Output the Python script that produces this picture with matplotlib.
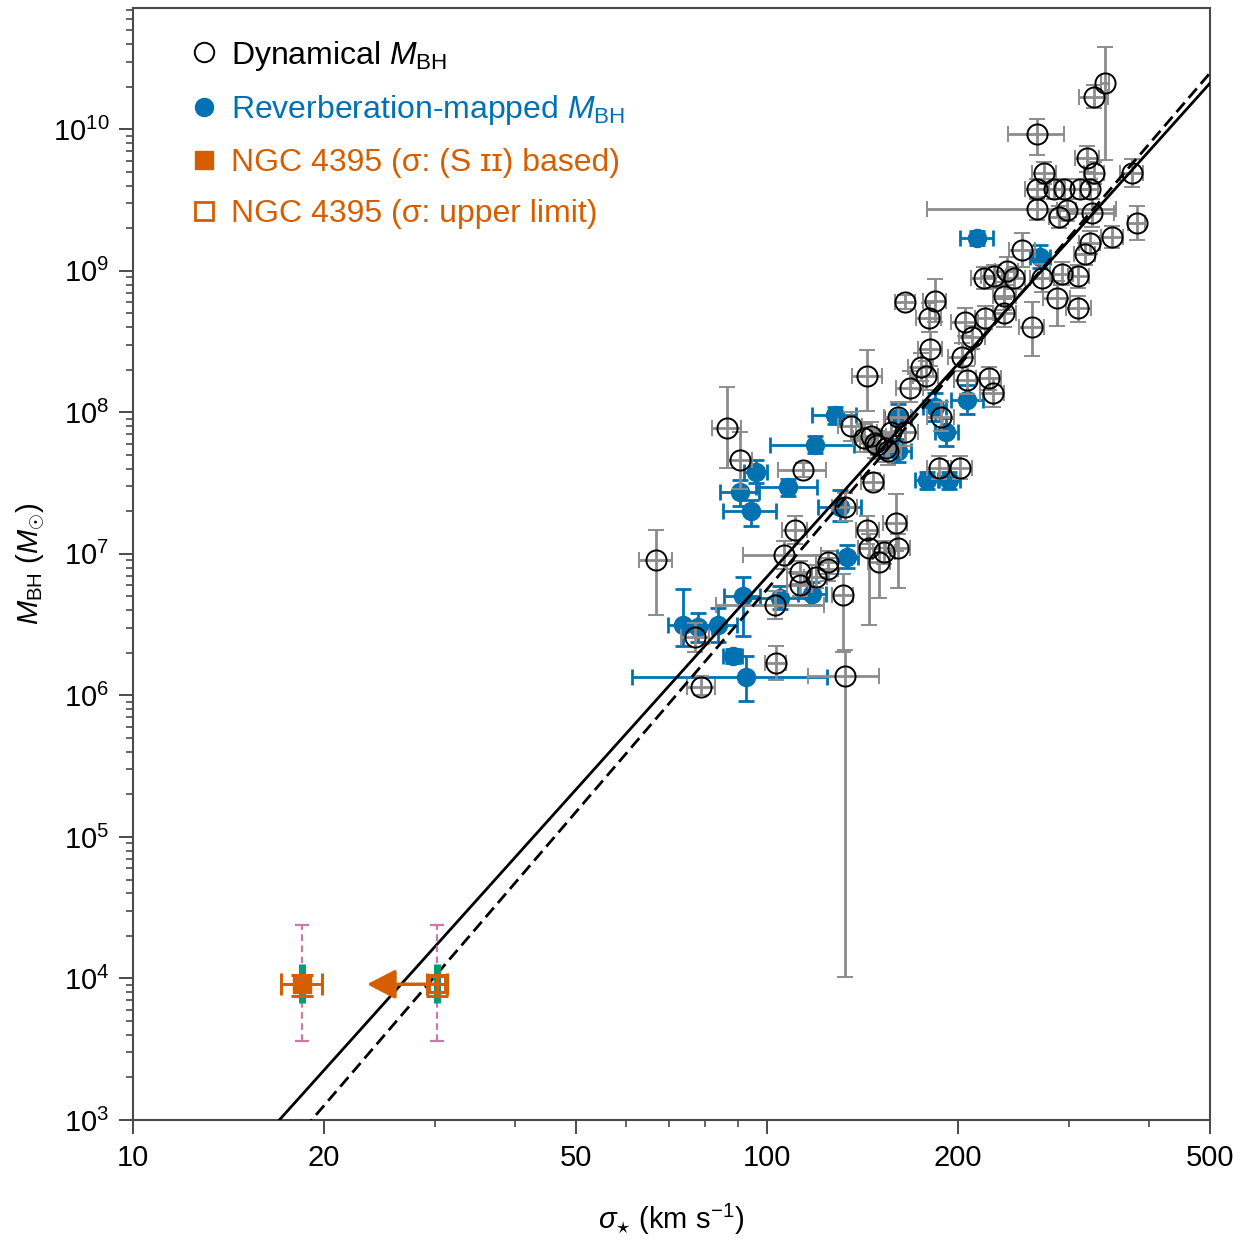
import numpy as np
import matplotlib
matplotlib.use("Agg")
import matplotlib.pyplot as plt
from matplotlib.lines import Line2D
from matplotlib.ticker import LogLocator, NullFormatter, FixedLocator, FixedFormatter

plt.rcParams['font.family'] = ['Liberation Sans', 'DejaVu Sans']
plt.rcParams['mathtext.fontset'] = 'custom'
plt.rcParams['mathtext.rm'] = 'Liberation Sans'
plt.rcParams['mathtext.it'] = 'Liberation Sans:italic'
plt.rcParams['mathtext.bf'] = 'Liberation Sans:bold'
plt.rcParams['mathtext.sf'] = 'Liberation Sans'

# ---------------- data ----------------
# Dynamical M_BH: sigma (km/s), sigma error (km/s), log10 M, lower / upper error (dex)
dyn_sigma = [341, 328, 267, 320, 274, 328, 376, 267, 284, 294, 312, 323, 267, 297, 289,
             326, 383, 350, 323, 317, 253, 239, 245, 272, 292, 310, 220, 228, 287, 310,
             237, 237, 262, 165, 184, 180, 205, 221, 211, 181, 144, 175, 178, 203, 168,
             207, 224, 227, 161, 188, 157, 165, 146, 154, 148, 187, 202, 147, 86.5, 90.7,
             114, 135.5, 142.5, 149.4, 155, 110.6, 132.6, 66.9, 106.6, 112.7, 112.7, 119.4,
             124.7, 124.7, 144, 159.6, 145, 153, 161, 150.5, 103, 131.7, 133, 77.1, 103.3, 78.7]
dyn_sigma_err = [5, 17, 27, 14, 12, 12, 16, 12, 8, 8, 10, 10, 88, 10, 10,
                 27, 12, 14, 12, 12, 12, 10, 10, 12, 12, 12, 10, 10, 14, 14,
                 10, 10, 12, 6, 8, 8, 10, 8, 10, 8, 8, 8, 8, 10, 8,
                 10, 10, 10, 8, 9, 8, 8, 8, 8, 8, 8, 9, 6, 4.5, 4,
                 10, 6, 6, 7, 8, 5, 6, 4, 15, 5, 5, 5,
                 5, 5, 6, 7, 6, 6, 7, 6, 20, 5, 17, 4, 4, 4]
dyn_logm = [10.33, 10.23, 9.97, 9.80, 9.69, 9.69, 9.69, 9.58, 9.58, 9.58, 9.58, 9.58, 9.44, 9.43, 9.38,
            9.41, 9.34, 9.24, 9.20, 9.12, 9.15, 9.00, 8.95, 8.95, 8.98, 8.96, 8.95, 8.96, 8.81, 8.74,
            8.82, 8.70, 8.60, 8.78, 8.79, 8.67, 8.64, 8.67, 8.53, 8.45, 8.26, 8.32, 8.26, 8.39, 8.17,
            8.23, 8.24, 8.14, 7.97, 7.97, 7.86, 7.86, 7.83, 7.75, 7.78, 7.61, 7.61, 7.51, 7.89, 7.66,
            7.59, 7.90, 7.82, 7.77, 7.73, 7.17, 7.33, 6.96, 6.99, 6.87, 6.78, 6.84,
            6.94, 6.89, 7.17, 7.22, 7.04, 7.01, 7.04, 6.94, 6.64, 6.71, 6.14, 6.41, 6.23, 6.06]
dyn_err_lo = [0.55, 0.08, 0.15, 0.10, 0.08, 0.08, 0.10, 0.07, 0.07, 0.07, 0.07, 0.07, 0.08, 0.08, 0.08,
              0.10, 0.12, 0.08, 0.08, 0.08, 0.12, 0.10, 0.08, 0.10, 0.08, 0.08, 0.08, 0.08, 0.20, 0.10,
              0.10, 0.10, 0.20, 0.05, 0.15, 0.10, 0.10, 0.08, 0.08, 0.12, 0.25, 0.10, 0.10, 0.10, 0.10,
              0.10, 0.08, 0.10, 0.10, 0.10, 0.10, 0.10, 0.10, 0.10, 0.10, 0.08, 0.08, 0.06, 0.28, 0.20,
              0.05, 0.10, 0.10, 0.10, 0.10, 0.10, 0.10, 0.39, 0.10, 0.08, 0.08, 0.08,
              0.08, 0.08, 0.10, 0.20, 0.54, 0.08, 0.28, 0.25, 0.10, 0.40, 2.13, 0.10, 0.12, 0.06]
dyn_err_hi = [0.25, 0.08, 0.10, 0.08, 0.08, 0.08, 0.10, 0.07, 0.07, 0.07, 0.07, 0.07, 0.08, 0.08, 0.08,
              0.10, 0.12, 0.08, 0.08, 0.08, 0.12, 0.10, 0.08, 0.10, 0.08, 0.08, 0.08, 0.08, 0.12, 0.08,
              0.10, 0.10, 0.18, 0.05, 0.15, 0.10, 0.10, 0.08, 0.08, 0.12, 0.18, 0.10, 0.10, 0.10, 0.12,
              0.10, 0.08, 0.10, 0.10, 0.10, 0.10, 0.10, 0.10, 0.10, 0.10, 0.08, 0.08, 0.06, 0.29, 0.20,
              0.05, 0.10, 0.10, 0.10, 0.10, 0.10, 0.10, 0.21, 0.10, 0.08, 0.08, 0.08,
              0.08, 0.08, 0.10, 0.20, 0.10, 0.08, 0.10, 0.10, 0.10, 0.15, 0.18, 0.10, 0.12, 0.08]

# Reverberation-mapped M_BH
rm_sigma = [214.7, 270, 207, 184, 192, 161, 161, 179, 194, 128, 119, 96.1, 90.7, 108, 94.4,
            130.6, 134, 91.6, 104.7, 118, 73.8, 77.9, 83.7, 88.4, 92.7]
rm_sigma_err = [13, 10, 12, 8, 8, 8, 8, 8, 8, 10, 18, 4, 6.5, 12, 9,
                10, 5, 6, 12, 6, 4, 4, 6, 3, 31.5]
rm_logm = [9.23, 9.10, 8.09, 8.04, 7.86, 7.96, 7.73, 7.52, 7.52, 7.98, 7.77, 7.58, 7.44, 7.47, 7.30,
           7.33, 6.98, 6.70, 6.69, 6.72, 6.50, 6.48, 6.50, 6.28, 6.13]
rm_err_lo = [0.05, 0.08, 0.10, 0.10, 0.10, 0.10, 0.08, 0.06, 0.06, 0.06, 0.06, 0.08, 0.10, 0.06, 0.10,
             0.10, 0.08, 0.28, 0.08, 0.08, 0.15, 0.10, 0.12, 0.05, 0.17]
rm_err_hi = [0.05, 0.08, 0.10, 0.10, 0.10, 0.10, 0.08, 0.06, 0.06, 0.06, 0.06, 0.08, 0.08, 0.06, 0.08,
             0.12, 0.08, 0.14, 0.08, 0.08, 0.25, 0.10, 0.12, 0.05, 0.15]

# NGC 4395
ngc_mbh = 9.1e3
ngc_mbh_err = (1.6e3, 1.5e3)          # orange
ngc_mbh_err_green = (2.4e3, 3.6e3)    # green
ngc_mbh_err_pink = (5.5e3, 14.8e3)    # pink dashed
ngc_sigma_sii = 18.5
ngc_sigma_sii_err = 1.4
ngc_sigma_upper = 30.2
ngc_sigma_upper_err = 1.1
ngc_arrow_to = 23.4

# M-sigma relations: log M = a + b log(sigma/200)
fit_solid = (8.34, 4.99)
fit_dashed = (8.32, 5.22)

BLUE = '#0072B2'
ORANGE = '#D55E00'
GREEN = '#009E73'
PINK = '#CC79A7'
GRAY = '#8c8c8c'

# ---------------- figure ----------------
fig = plt.figure(figsize=(12.46, 12.41), dpi=100)
ax = fig.add_axes([0.1067, 0.0975, 0.8644, 0.8961])
ax.set_xscale('log')
ax.set_yscale('log')


def yerr_from_log(logm, lo, hi):
    logm = np.asarray(logm); lo = np.asarray(lo); hi = np.asarray(hi)
    m = 10 ** logm
    return m, np.vstack([m - 10 ** (logm - lo), 10 ** (logm + hi) - m])


# fit lines
sg = np.logspace(1, np.log10(500), 300)
for (a, b), ls in [(fit_solid, '-'), (fit_dashed, (0, (4.5, 2.2)))]:
    ax.plot(sg, 10 ** (a + b * np.log10(sg / 200.0)), color='black', lw=2.0, ls=ls, zorder=4)

# RM points
m_rm, e_rm = yerr_from_log(rm_logm, rm_err_lo, rm_err_hi)
ax.errorbar(rm_sigma, m_rm, xerr=rm_sigma_err, yerr=e_rm, fmt='o', ms=13, mfc=BLUE, mec=BLUE,
            ecolor=BLUE, elinewidth=2, capsize=5.5, capthick=2, zorder=2)

# dynamical points
m_dy, e_dy = yerr_from_log(dyn_logm, dyn_err_lo, dyn_err_hi)
ax.errorbar(dyn_sigma, m_dy, xerr=dyn_sigma_err, yerr=e_dy, fmt='o', ms=14.5, mfc='none', mec='black',
            mew=1.4, ecolor=GRAY, elinewidth=2, capsize=5.5, capthick=2, zorder=3)

# NGC 4395
for s in (ngc_sigma_sii, ngc_sigma_upper):
    eb = ax.errorbar([s], [ngc_mbh], yerr=[[ngc_mbh_err_pink[0]], [ngc_mbh_err_pink[1]]], fmt='none',
                     ecolor=PINK, elinewidth=1.6, capsize=5, capthick=1.6, zorder=5)
    eb[2][0].set_linestyle((0, (3, 2)))
    ax.errorbar([s], [ngc_mbh], yerr=[[ngc_mbh_err_green[0]], [ngc_mbh_err_green[1]]], fmt='none',
                ecolor=GREEN, elinewidth=5, capsize=0, zorder=6)

ax.annotate('', xy=(ngc_arrow_to, ngc_mbh), xytext=(ngc_sigma_upper, ngc_mbh),
            arrowprops=dict(arrowstyle='-|>,head_length=0.58,head_width=0.3', color=ORANGE, lw=2.5,
                            mutation_scale=30, shrinkA=0, shrinkB=0), zorder=7)
ax.errorbar([ngc_sigma_sii], [ngc_mbh], xerr=ngc_sigma_sii_err,
            yerr=[[ngc_mbh_err[0]], [ngc_mbh_err[1]]], fmt='s', ms=13, mfc=ORANGE, mec=ORANGE,
            ecolor=ORANGE, elinewidth=2.2, capsize=8, capthick=2.2, zorder=8)
ax.errorbar([ngc_sigma_upper], [ngc_mbh], xerr=ngc_sigma_upper_err,
            yerr=[[ngc_mbh_err[0]], [ngc_mbh_err[1]]], fmt='s', ms=12, mfc='none', mec=ORANGE, mew=2.2,
            ecolor=ORANGE, elinewidth=2.2, capsize=8, capthick=2.2, zorder=8)

# axes
ax.set_xlim(10, 500)
ax.set_ylim(1e3, 7.2e10)
xt = [10, 20, 50, 100, 200, 500]
ax.xaxis.set_major_locator(FixedLocator(xt))
ax.xaxis.set_major_formatter(FixedFormatter([str(v) for v in xt]))
ax.xaxis.set_minor_locator(FixedLocator([30, 40, 60, 70, 80, 90, 300, 400]))
ax.xaxis.set_minor_formatter(NullFormatter())
ax.yaxis.set_major_locator(LogLocator(base=10, numticks=20))
ax.yaxis.set_minor_locator(LogLocator(base=10, subs=np.arange(2, 10), numticks=20))
ax.yaxis.set_minor_formatter(NullFormatter())

SPINE = '#4a4a4a'
for sp in ax.spines.values():
    sp.set_color(SPINE)
    sp.set_linewidth(1.5)
ax.tick_params(which='major', direction='out', length=10, width=1.4, color=SPINE, labelsize=21, pad=7)
ax.tick_params(which='minor', direction='out', length=5, width=1.2, color=SPINE)

ax.set_xlabel(r'$\sigma_{\star}$ (km s$^{-1}$)', fontsize=21, labelpad=22)
ax.set_ylabel(r'$M_{\mathrm{BH}}$ ($M_{\odot}$)', fontsize=21, labelpad=4)

handles = [
    Line2D([], [], ls='none', marker='o', ms=14, mfc='none', mec='black', mew=1.4),
    Line2D([], [], ls='none', marker='o', ms=13, mfc=BLUE, mec=BLUE),
    Line2D([], [], ls='none', marker='s', ms=13, mfc=ORANGE, mec=ORANGE),
    Line2D([], [], ls='none', marker='s', ms=13, mfc='none', mec=ORANGE, mew=2),
]
labels = [r'Dynamical $M_{\mathrm{BH}}$', r'Reverberation-mapped $M_{\mathrm{BH}}$',
          'NGC 4395 (σ: (S ɪɪ) based)', 'NGC 4395 (σ: upper limit)']
leg = ax.legend(handles, labels, loc='upper left', bbox_to_anchor=(0.055, 0.9725), frameon=False,
                fontsize=23, handlelength=0.75, handletextpad=0.45, labelspacing=0.65, borderaxespad=0,
                borderpad=0)
for t, c in zip(leg.get_texts(), ['black', BLUE, ORANGE, ORANGE]):
    t.set_color(c)

fig.savefig('out.png', dpi=100)
